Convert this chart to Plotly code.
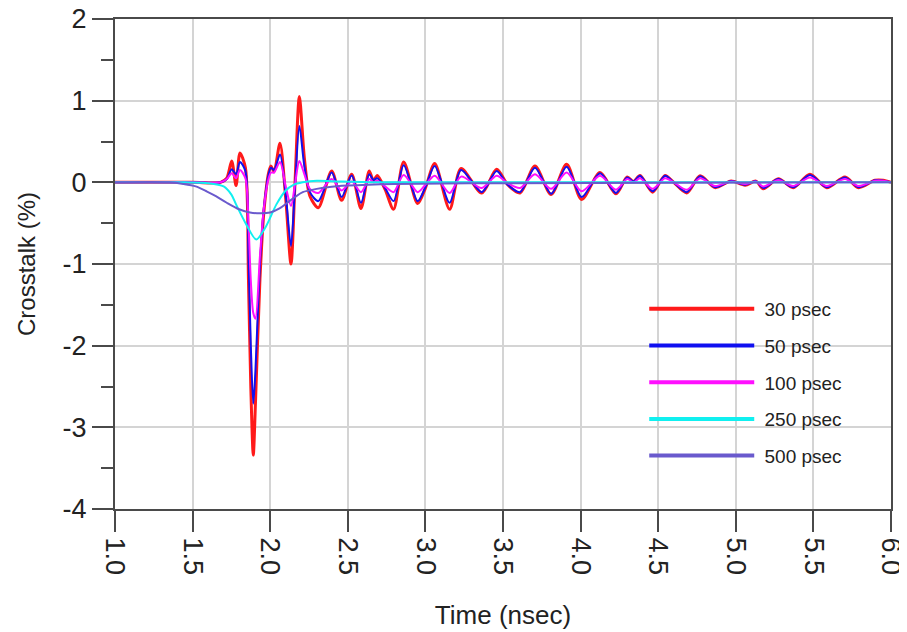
import plotly.graph_objects as go

# ---- data (time in nsec, crosstalk in %) ----
t_osc = [1.00, 1.50, 1.68, 1.72, 1.752, 1.78, 1.805, 1.84, 1.86, 1.875, 1.891, 1.905,
         1.934, 1.96, 1.99, 2.005, 2.025, 2.063, 2.10, 2.134, 2.16, 2.188, 2.22, 2.256,
         2.31, 2.396, 2.46, 2.525, 2.585, 2.638, 2.665, 2.69, 2.74, 2.795, 2.86, 2.95,
         3.00, 3.06, 3.156, 3.23, 3.363, 3.459, 3.53, 3.61, 3.706, 3.81, 3.91, 4.007,
         4.125, 4.228, 4.30, 4.34, 4.383, 4.464, 4.544, 4.60, 4.684, 4.77, 4.866, 4.97,
         5.06, 5.13, 5.177, 5.274, 5.37, 5.478, 5.586, 5.704, 5.79, 5.897, 5.95, 6.00]

xt_30 = [0, 0, 0, 0.05, 0.26, -0.04, 0.36, 0.18, -1.2, -2.5, -3.34, -2.7,
         -1.18, -0.35, 0.12, 0.2, 0.13, 0.48, -0.2, -1.0, 0.0, 1.05, 0.3, -0.17,
         -0.31, 0.14, -0.22, 0.10, -0.32, 0.14, 0.02, 0.085, -0.085, -0.33, 0.25, -0.26,
         -0.07, 0.23, -0.33, 0.17, -0.13, 0.16, -0.03, -0.13, 0.20, -0.15, 0.22, -0.21,
         0.12, -0.14, 0.065, 0.01, 0.085, -0.12, 0.085, 0.0, -0.13, 0.08, -0.065, 0.015,
         -0.035, 0.015, -0.08, 0.045, -0.065, 0.10, -0.065, 0.065, -0.065, 0.025, 0.025, 0.0]

xt_50 = [0, 0, 0, 0.04, 0.16, 0.10, 0.25, 0.14, -0.9, -2.0, -2.71, -2.3,
         -1.0, -0.3, 0.1, 0.18, 0.15, 0.34, -0.15, -0.78, -0.05, 0.69, 0.2, -0.12,
         -0.23, 0.12, -0.18, 0.085, -0.25, 0.10, 0.03, 0.05, -0.07, -0.23, 0.21, -0.23,
         -0.06, 0.20, -0.25, 0.15, -0.12, 0.14, -0.03, -0.12, 0.18, -0.14, 0.19, -0.18,
         0.11, -0.13, 0.06, 0.01, 0.08, -0.11, 0.08, 0.0, -0.12, 0.075, -0.06, 0.015,
         -0.03, 0.015, -0.07, 0.04, -0.06, 0.09, -0.06, 0.06, -0.06, 0.025, 0.02, 0.0]

xt_100 = [0, 0, 0, 0.04, 0.11, 0.05, 0.15, 0.05, -0.5, -1.2, -1.6, -1.67,
          -0.9, -0.3, 0.05, 0.12, 0.12, 0.25, -0.05, -0.29, -0.02, 0.26, 0.1, -0.08,
          -0.13, 0.04, -0.10, 0.01, -0.12, 0.04, 0.0, 0.02, -0.05, -0.12, 0.09, -0.12,
          -0.03, 0.08, -0.13, 0.07, -0.07, 0.08, -0.01, -0.07, 0.10, -0.08, 0.12, -0.11,
          0.08, -0.09, 0.04, 0.0, 0.05, -0.08, 0.05, 0.0, -0.09, 0.05, -0.045, 0.01,
          -0.02, 0.01, -0.05, 0.03, -0.045, 0.06, -0.045, 0.04, -0.045, 0.02, 0.02, 0.0]

t_250 = [1.00, 1.45, 1.60, 1.70, 1.75, 1.78, 1.85, 1.91, 1.97, 2.04, 2.10, 2.15,
         2.21, 2.30, 2.45, 2.70, 6.00]
xt_250 = [0, 0, -0.01, -0.05, -0.15, -0.27, -0.53, -0.70, -0.55, -0.27, -0.10, -0.03,
          0.0, 0.02, 0.01, 0.0, 0.0]

t_500 = [1.00, 1.35, 1.44, 1.52, 1.59, 1.65, 1.72, 1.80, 1.87, 1.94, 2.00, 2.06,
         2.11, 2.16, 2.21, 2.30, 2.37, 2.50, 2.80, 3.50, 6.00]
xt_500 = [0, 0, -0.02, -0.05, -0.11, -0.17, -0.25, -0.33, -0.37, -0.38, -0.37, -0.32,
          -0.25, -0.18, -0.12, -0.08, -0.06, -0.04, -0.02, -0.01, 0.0]

names = ["30 psec", "50 psec", "100 psec", "250 psec", "500 psec"]
colors = ["#ff1a1a", "#1010f0", "#ff10ff", "#10f0f0", "#6a5acd"]
widths = [3, 2, 2, 2, 2]

x_ticks = [1.0, 1.5, 2.0, 2.5, 3.0, 3.5, 4.0, 4.5, 5.0, 5.5, 6.0]
x_ticklabels = ["1.0", "1.5", "2.0", "2.5", "3.0", "3.5", "4.0", "4.5", "5.0", "5.5", "6.0"]
y_ticks = [-4, -3, -2, -1, 0, 1, 2]
y_ticklabels = ["-4", "-3", "-2", "-1", "0", "1", "2"]

series = [(t_osc, xt_30), (t_osc, xt_50), (t_osc, xt_100), (t_250, xt_250), (t_500, xt_500)]

FONT = "Liberation Sans, Arial, Helvetica, sans-serif"

fig = go.Figure()
for (tx, ty), nm, c, w in zip(series, names, colors, widths):
    fig.add_trace(go.Scatter(x=tx, y=ty, mode="lines", name=nm, showlegend=False,
                             line=dict(color=c, width=w, shape="spline", smoothing=0.8)))
# legend entries (thicker strokes as in the reference legend)
for nm, c in zip(names, colors):
    fig.add_trace(go.Scatter(x=[None], y=[None], mode="lines", name="\u00a0" + nm,
                             legendgroup=nm, line=dict(color=c, width=4)))

axis_common = dict(
    showline=True, linecolor="#4a4a4a", linewidth=2, mirror=True,
    showgrid=True, gridcolor="#d4d4d4", gridwidth=2,
    ticks="outside", tickcolor="#4a4a4a", tickwidth=2, ticklen=21,
    zeroline=False, automargin=False, ticklabeloverflow="allow",
    tickfont=dict(family=FONT, size=27, color="#222222"),
)

# page body has an 8px margin, so the figure is sized to fit the 907x632 window
fig.update_layout(
    width=899, height=624,
    margin=dict(l=107, r=16, t=11, b=123),
    paper_bgcolor="white", plot_bgcolor="white",
    font=dict(family=FONT, color="#222222"),
    xaxis=dict(range=[1.0, 6.0], tickvals=x_ticks, ticktext=x_ticklabels, tickangle=90,
               title=dict(text="Time (nsec)", font=dict(family=FONT, size=26, color="#222222"),
                          standoff=32),
               **axis_common),
    yaxis=dict(range=[-4, 2], tickvals=y_ticks, ticktext=y_ticklabels,
               title=dict(text="Crosstalk (%)", font=dict(family=FONT, size=24, color="#222222"),
                          standoff=20),
               minor=dict(dtick=0.5, ticks="outside", ticklen=12, tickcolor="#4a4a4a",
                          tickwidth=2, showgrid=False),
               **axis_common),
    legend=dict(x=0.682, y=0.447, xanchor="left", yanchor="top",
                bgcolor="rgba(0,0,0,0)", borderwidth=0,
                font=dict(family=FONT, size=19, color="#222222"),
                itemwidth=105, tracegroupgap=9),
    showlegend=True,
)

fig.write_html("out.html")
